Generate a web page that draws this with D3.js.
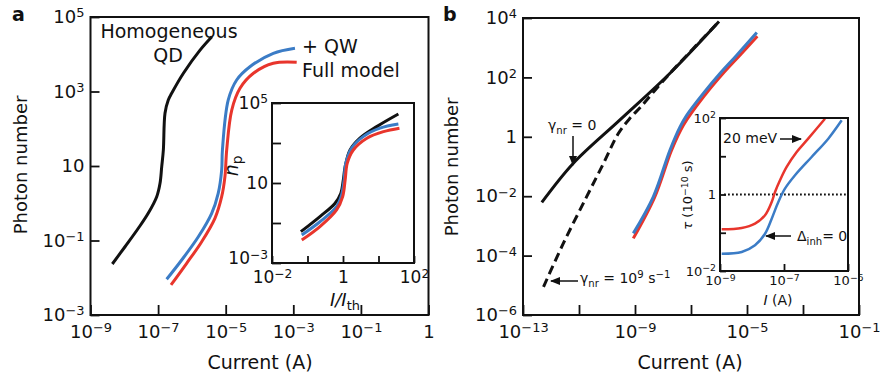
<!DOCTYPE html>
<html>
<head>
<meta charset="utf-8">
<script src="https://cdnjs.cloudflare.com/ajax/libs/d3/7.8.5/d3.min.js"></script>
<style>
  body { margin: 0; background: #fff; }
  svg { display: block; }
  text { font-family: "DejaVu Sans", sans-serif; fill: #111; }
</style>
</head>
<body>
<svg id="chart" width="880" height="379"></svg>
<script>
// ---- panel a : photon number vs current ----
const aHomCurrent  = [4.42e-9, 1.05e-8, 2.6e-8, 5.1e-8, 9.1e-8, 1.14e-7, 1.28e-7, 1.43e-7, 1.6e-7, 2.0e-7, 2.52e-7, 5.6e-7, 1.74e-6, 3.9e-6];
const aHomPhotons  = [0.0234, 0.068, 0.213, 0.537, 1.5, 3.44, 9.6, 26.9, 260, 592, 895, 3090, 12900, 29500];
const aQwCurrent   = [1.79e-7, 4.99e-7, 1.55e-6, 3.85e-6, 6.0e-6, 7.6e-6, 8.0e-6, 1.19e-5, 2.11e-5, 5.2e-5, 2.56e-4, 1.12e-3];
const aQwPhotons   = [0.0091, 0.030, 0.126, 0.537, 1.85, 7.8, 26.9, 592, 2040, 4630, 10600, 14500];
const aFullCurrent = [2.41e-7, 7.0e-7, 1.95e-6, 4.8e-6, 7.6e-6, 9.5e-6, 1.07e-5, 1.51e-5, 2.65e-5, 6.6e-5, 2.56e-4, 1.26e-3];
const aFullPhotons = [0.0064, 0.0244, 0.093, 0.394, 1.5, 5.2, 26.9, 318, 1220, 3080, 5710, 6080];

// inset a : n_p vs I/I_th
const aInsHomRatio   = [0.065, 0.224, 0.59, 0.87, 1.02, 1.15, 1.58, 3.0, 8.9, 36.3];
const aInsHomPhotons = [0.037, 0.21, 0.95, 3.1, 14.1, 66, 447, 1740, 6600, 28200];
const aInsQwRatio    = [0.069, 0.224, 0.66, 0.91, 1.07, 1.2, 1.74, 3.7, 11.0, 36.3];
const aInsQwPhotons  = [0.025, 0.115, 0.65, 2.5, 14.1, 98, 550, 2090, 5500, 8900];
const aInsFullRatio  = [0.069, 0.224, 0.66, 0.98, 1.15, 1.32, 1.95, 4.7, 13.8, 38.9];
const aInsFullPhotons= [0.014, 0.066, 0.45, 2.1, 14.1, 98, 447, 1740, 3700, 5500];

// ---- panel b ----
const bNoNrCurrent = [4.7e-13, 6.3e-12, 2.9e-10, 1.78e-8, 1.0e-6];
const bNoNrPhotons = [0.0062, 0.129, 3.7, 138, 7600];
const bNrCurrent   = [5.4e-13, 2.75e-12, 1.86e-11, 7.9e-11, 2.5e-10, 6.3e-10, 1.58e-9, 5.0e-9, 1.78e-8, 1.0e-6];
const bNrPhotons   = [8.9e-6, 2.57e-4, 0.0095, 0.141, 1.26, 4.0, 10, 35.5, 138, 7600];
const bQwCurrent   = [8.7e-10, 4.5e-9, 1.78e-8, 4.1e-8, 7.1e-8, 2.75e-7, 1.1e-6, 4.3e-6, 2.24e-5];
const bQwPhotons   = [5.6e-4, 0.0095, 0.36, 2.2, 5.4, 29, 138, 560, 3240];
const bFullCurrent = [8.7e-10, 5.1e-9, 2.04e-8, 5.4e-8, 3.2e-7, 1.41e-6, 5.6e-6, 2.34e-5];
const bFullPhotons = [3.8e-4, 0.0095, 0.36, 2.5, 26, 138, 560, 2450];

// inset b : tau vs I
const bIns20Current = [1.13e-9, 4.76e-9, 1.24e-8, 2.55e-8, 4.13e-8, 5.24e-8, 7.5e-8, 1.21e-7, 2.49e-7, 5.7e-7, 1.91e-6];
const bIns20Tau     = [0.123, 0.133, 0.173, 0.286, 0.637, 1.16, 2.35, 5.24, 12.9, 28.8, 95.9];
const bIns0Current  = [1.13e-9, 4.76e-9, 1.24e-8, 2.55e-8, 4.13e-8, 6.64e-8, 1.07e-7, 2.21e-7, 7.3e-7, 2.42e-6, 6.35e-6];
const bIns0Tau      = [0.0283, 0.0314, 0.047, 0.0944, 0.233, 0.637, 1.42, 3.18, 9.55, 28.8, 87.1];
const bInsRefTau    = 1;

// ticks
const aXTicks = [1e-9, 1e-7, 1e-5, 1e-3, 1e-1, 1e1];
const aXLabels = ['10^−9', '10^−7', '10^−5', '10^−3', '10^−1', '1'];
const aYTicks = [1e-3, 1e-1, 1e1, 1e3, 1e5];
const aYLabels = ['10^−3', '10^−1', '10', '10^3', '10^5'];
const aInsXTicks = [1e-2, 1e-1, 1, 1e1, 1e2];
const aInsXLabels = ['10^−2', '', '1', '', '10^2'];
const aInsYTicks = [1e-3, 1e-1, 1e1, 1e3, 1e5];
const aInsYLabels = ['10^−3', '', '10', '', '10^5'];
const bXTicks = [1e-13, 1e-11, 1e-9, 1e-7, 1e-5, 1e-3, 1e-1];
const bXLabels = ['10^−13', '', '10^−9', '', '10^−5', '', '10^−1'];
const bYTicks = [1e-6, 1e-4, 1e-2, 1, 1e2, 1e4];
const bYLabels = ['10^−6', '10^−4', '10^−2', '1', '10^2', '10^4'];
const bInsXTicks = [1e-9, 1e-7, 1e-5];
const bInsXLabels = ['10^−9', '10^−7', '10^−5'];
const bInsYTicks = [1e-2, 1e-1, 1, 1e1, 1e2];
const bInsYLabels = ['10^−2', '', '1', '', '10^2'];

const BLUE = '#3b7cc6', RED = '#e8352c', INK = '#111';

const svg = d3.select('#chart');

const defs = svg.append('defs');
defs.append('marker')
  .attr('id', 'arrow')
  .attr('viewBox', '0 0 10 8')
  .attr('refX', 9).attr('refY', 4)
  .attr('markerWidth', 10).attr('markerHeight', 8)
  .attr('markerUnits', 'userSpaceOnUse')
  .attr('orient', 'auto')
  .append('path').attr('d', 'M0,0L10,4L0,8z').attr('fill', INK);

function powText(sel, label) {
  if (!label) return;
  const parts = label.split('^');
  sel.append('tspan').text(parts[0]);
  if (parts[1]) sel.append('tspan').attr('font-size', '0.72em').attr('dy', '-0.45em').text(parts[1]);
}

function axis(g, scale, orient, ticks, labels, len, pad, fs) {
  const a = (orient === 'bottom' ? d3.axisBottom(scale) : d3.axisLeft(scale))
    .tickValues(ticks).tickSizeInner(-len).tickSizeOuter(0).tickPadding(pad)
    .tickFormat(() => '');
  g.call(a);
  g.select('.domain').remove();
  g.selectAll('.tick line').attr('stroke', INK).attr('stroke-width', 1.8);
  g.selectAll('.tick text').attr('font-size', fs).attr('fill', INK)
    .each(function (d, i) { powText(d3.select(this), labels[i]); });
}

function curve(g, xs, ys, sx, sy, color, width, dash) {
  const pts = xs.map((x, i) => [x, ys[i]]);
  const line = d3.line().x(d => sx(d[0])).y(d => sy(d[1])).curve(d3.curveCatmullRom.alpha(0.5));
  const p = g.append('path').datum(pts)
    .attr('d', line).attr('fill', 'none')
    .attr('stroke', color).attr('stroke-width', width)
    .attr('stroke-linejoin', 'round').attr('stroke-linecap', 'butt');
  if (dash) p.attr('stroke-dasharray', dash);
}

function frame(g, sx, sy, fill) {
  const [x0, x1] = sx.range(), [y0, y1] = sy.range();
  return g.append('rect')
    .attr('x', x0).attr('y', y1).attr('width', x1 - x0).attr('height', y0 - y1)
    .attr('fill', fill || 'none').attr('stroke', INK).attr('stroke-width', 2);
}

function arrow(g, x1, y1, x2, y2) {
  g.append('line').attr('x1', x1).attr('y1', y1).attr('x2', x2).attr('y2', y2)
    .attr('stroke', INK).attr('stroke-width', 1.5).attr('marker-end', 'url(#arrow)');
}

// ================= panel a =================
const ax = d3.scaleLog().domain([1e-9, 1e1]).range([90.5, 428.5]);
const ay = d3.scaleLog().domain([1e-3, 1e5]).range([315, 17]);
const ga = svg.append('g');

curve(ga, aHomCurrent, aHomPhotons, ax, ay, INK, 3);
curve(ga, aQwCurrent, aQwPhotons, ax, ay, BLUE, 3);
curve(ga, aFullCurrent, aFullPhotons, ax, ay, RED, 3);

axis(ga.append('g').attr('transform', 'translate(0,315)'), ax, 'bottom', aXTicks, aXLabels, 10, 10, 18);
axis(ga.append('g').attr('transform', 'translate(90.5,0)'), ay, 'left', aYTicks, aYLabels, 9, 6, 18);
frame(ga, ax, ay);

ga.append('text').attr('x', 12).attr('y', 21).attr('font-size', 19).attr('font-weight', 'bold').text('a');
ga.append('text').attr('x', 260).attr('y', 369).attr('font-size', 19).attr('text-anchor', 'middle').text('Current (A)');
ga.append('text').attr('transform', 'translate(27,165) rotate(-90)').attr('font-size', 18)
  .attr('text-anchor', 'middle').text('Photon number');
ga.append('text').attr('x', 169).attr('y', 38).attr('font-size', 19).attr('text-anchor', 'middle').text('Homogeneous');
ga.append('text').attr('x', 168).attr('y', 62).attr('font-size', 19).attr('text-anchor', 'middle').text('QD');
ga.append('text').attr('x', 302).attr('y', 53).attr('font-size', 19).text('+ QW');
ga.append('text').attr('x', 302).attr('y', 77).attr('font-size', 19).text('Full model');

// inset a
const aix = d3.scaleLog().domain([1e-2, 1e2]).range([272, 414]);
const aiy = d3.scaleLog().domain([1e-3, 1e5]).range([263, 103]);
const gai = svg.append('g');
frame(gai, aix, aiy, '#fff');
curve(gai, aInsHomRatio, aInsHomPhotons, aix, aiy, INK, 3);
curve(gai, aInsQwRatio, aInsQwPhotons, aix, aiy, BLUE, 3);
curve(gai, aInsFullRatio, aInsFullPhotons, aix, aiy, RED, 3);
axis(gai.append('g').attr('transform', 'translate(0,263)'), aix, 'bottom', aInsXTicks, aInsXLabels, 7, 8, 17);
axis(gai.append('g').attr('transform', 'translate(272,0)'), aiy, 'left', aInsYTicks, aInsYLabels, 9, 4, 17);
frame(gai, aix, aiy);
// lift the bottom y label a little, as in the figure
gai.selectAll('.tick text').filter(d => d === 1e-3).attr('dy', '0.05em');

const ixl = gai.append('text').attr('x', 345).attr('y', 306).attr('font-size', 18).attr('text-anchor', 'middle');
ixl.append('tspan').attr('font-style', 'italic').text('I/I');
ixl.append('tspan').attr('font-size', '0.72em').attr('dy', '0.3em').text('th');
const iyl = gai.append('text').attr('transform', 'translate(238,166) rotate(-90)').attr('font-size', 19)
  .attr('text-anchor', 'middle');
iyl.append('tspan').attr('font-style', 'italic').text('n');
iyl.append('tspan').attr('font-size', '0.72em').attr('dy', '0.3em').text('p');

// ================= panel b =================
const bx = d3.scaleLog().domain([1e-13, 1e-1]).range([523, 859]);
const by = d3.scaleLog().domain([1e-6, 1e4]).range([315, 18]);
const gb = svg.append('g');

curve(gb, bNrCurrent, bNrPhotons, bx, by, INK, 3, '9,5');
curve(gb, bNoNrCurrent, bNoNrPhotons, bx, by, INK, 3);
curve(gb, bFullCurrent, bFullPhotons, bx, by, RED, 3);
curve(gb, bQwCurrent, bQwPhotons, bx, by, BLUE, 3);

axis(gb.append('g').attr('transform', 'translate(0,315)'), bx, 'bottom', bXTicks, bXLabels, 10, 10, 18);
axis(gb.append('g').attr('transform', 'translate(523,0)'), by, 'left', bYTicks, bYLabels, 9, 6, 18);
frame(gb, bx, by);

gb.append('text').attr('x', 443).attr('y', 21).attr('font-size', 19).attr('font-weight', 'bold').text('b');
gb.append('text').attr('x', 690).attr('y', 369).attr('font-size', 19).attr('text-anchor', 'middle').text('Current (A)');
gb.append('text').attr('transform', 'translate(458,167) rotate(-90)').attr('font-size', 18)
  .attr('text-anchor', 'middle').text('Photon number');

const g0 = gb.append('text').attr('x', 548).attr('y', 130).attr('font-size', 14);
g0.append('tspan').text('γ');
g0.append('tspan').attr('font-size', '0.72em').attr('dy', '0.4em').text('nr');
g0.append('tspan').attr('dy', '-0.29em').text(' = 0');
arrow(gb, 573, 136, 573, 165);

const g9 = gb.append('text').attr('x', 580).attr('y', 283).attr('font-size', 14);
g9.append('tspan').text('γ');
g9.append('tspan').attr('font-size', '0.72em').attr('dy', '0.4em').text('nr');
g9.append('tspan').attr('dy', '-0.29em').text(' = 10');
g9.append('tspan').attr('font-size', '0.72em').attr('dy', '-0.45em').text('9');
g9.append('tspan').attr('dy', '0.32em').text(' s');
g9.append('tspan').attr('font-size', '0.72em').attr('dy', '-0.45em').text('−1');
arrow(gb, 578, 281, 551, 281);

// inset b
const bix = d3.scaleLog().domain([1e-9, 1e-5]).range([720, 848]);
const biy = d3.scaleLog().domain([1e-2, 1e2]).range([271, 118]);
const gbi = svg.append('g');
frame(gbi, bix, biy, '#fff');
gbi.append('line')
  .attr('x1', bix.range()[0] + 4).attr('x2', bix.range()[1] - 2)
  .attr('y1', biy(bInsRefTau)).attr('y2', biy(bInsRefTau))
  .attr('stroke', INK).attr('stroke-width', 1.8).attr('stroke-dasharray', '1.8,2.2');
curve(gbi, bIns20Current, bIns20Tau, bix, biy, RED, 2.5);
curve(gbi, bIns0Current, bIns0Tau, bix, biy, BLUE, 2.5);
axis(gbi.append('g').attr('transform', 'translate(0,271)'), bix, 'bottom', bInsXTicks, bInsXLabels, 7, 5, 13);
axis(gbi.append('g').attr('transform', 'translate(720,0)'), biy, 'left', bInsYTicks, bInsYLabels, 6, 4, 13);
frame(gbi, bix, biy);

const txl = gbi.append('text').attr('x', 778).attr('y', 305).attr('font-size', 14).attr('text-anchor', 'middle');
txl.append('tspan').attr('font-style', 'italic').text('I');
txl.append('tspan').text(' (A)');
const tyl = gbi.append('text').attr('transform', 'translate(692,195) rotate(-90)').attr('font-size', 13)
  .attr('text-anchor', 'middle');
tyl.append('tspan').attr('font-style', 'italic').text('τ');
tyl.append('tspan').text(' (10');
tyl.append('tspan').attr('font-size', '0.72em').attr('dy', '-0.45em').text('−10');
tyl.append('tspan').attr('dy', '0.32em').text(' s)');

gbi.append('text').attr('x', 723).attr('y', 143).attr('font-size', 14).text('20 meV');
arrow(gbi, 780, 139, 801, 139);
const dl = gbi.append('text').attr('x', 797).attr('y', 241).attr('font-size', 14);
dl.append('tspan').text('Δ');
dl.append('tspan').attr('font-size', '0.72em').attr('dy', '0.4em').text('inh');
dl.append('tspan').attr('dy', '-0.29em').text('= 0');
arrow(gbi, 791, 236, 766, 236);
</script>
</body>
</html>
